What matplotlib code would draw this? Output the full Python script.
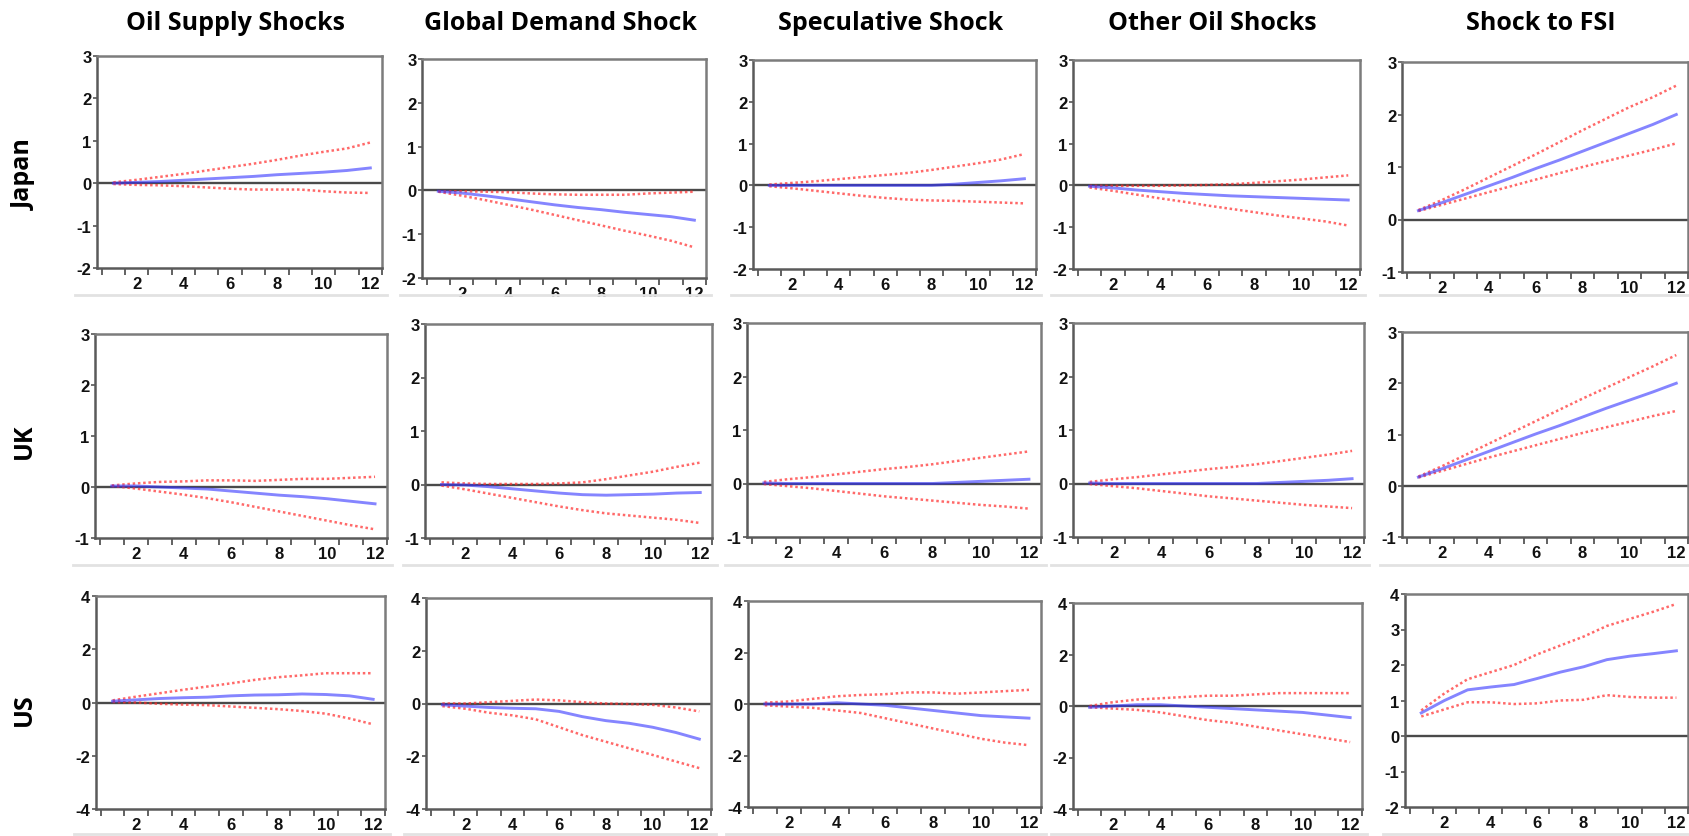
import matplotlib
matplotlib.use("Agg")
import matplotlib.pyplot as plt
from matplotlib.lines import Line2D
from matplotlib.patches import Rectangle
from matplotlib.ticker import FixedLocator, FuncFormatter
import numpy as np

# ---------------------------------------------------------------------------
# Impulse responses (12 horizons) with upper / lower confidence bands
# ---------------------------------------------------------------------------
horizon = list(range(1, 13))

col_titles = ["Oil Supply Shocks", "Global Demand Shock", "Speculative Shock",
              "Other Oil Shocks", "Shock to FSI"]
row_titles = ["Japan", "UK", "US"]

# Japan
jp_supply = [0.00, 0.02, 0.04, 0.07, 0.10, 0.13, 0.16, 0.20, 0.23, 0.26, 0.30, 0.36]
jp_supply_hi = [0.02, 0.08, 0.15, 0.22, 0.30, 0.38, 0.46, 0.55, 0.65, 0.74, 0.82, 0.96]
jp_supply_lo = [-0.02, -0.04, -0.05, -0.07, -0.10, -0.13, -0.15, -0.15, -0.15, -0.19, -0.22, -0.23]

jp_demand = [-0.02, -0.06, -0.12, -0.19, -0.26, -0.33, -0.39, -0.44, -0.50, -0.55, -0.60, -0.68]
jp_demand_hi = [-0.02, -0.02, -0.03, -0.04, -0.07, -0.09, -0.10, -0.10, -0.10, -0.07, -0.05, -0.03]
jp_demand_lo = [-0.03, -0.12, -0.22, -0.33, -0.44, -0.56, -0.68, -0.80, -0.92, -1.03, -1.15, -1.30]

jp_spec = [0.00, 0.00, 0.00, 0.00, 0.00, 0.00, 0.00, 0.00, 0.03, 0.07, 0.11, 0.16]
jp_spec_hi = [0.02, 0.06, 0.10, 0.15, 0.20, 0.25, 0.30, 0.37, 0.45, 0.53, 0.62, 0.75]
jp_spec_lo = [-0.02, -0.07, -0.13, -0.19, -0.25, -0.30, -0.34, -0.36, -0.37, -0.39, -0.41, -0.43]

jp_other = [-0.02, -0.06, -0.11, -0.15, -0.19, -0.22, -0.25, -0.27, -0.29, -0.31, -0.33, -0.35]
jp_other_hi = [-0.01, -0.01, -0.01, -0.01, 0.00, 0.01, 0.03, 0.06, 0.10, 0.14, 0.19, 0.24]
jp_other_lo = [-0.05, -0.13, -0.22, -0.31, -0.39, -0.48, -0.56, -0.64, -0.72, -0.79, -0.86, -0.96]

jp_fsi = [0.17, 0.32, 0.48, 0.64, 0.80, 0.97, 1.13, 1.30, 1.47, 1.64, 1.81, 2.00]
jp_fsi_hi = [0.18, 0.37, 0.58, 0.80, 1.02, 1.24, 1.47, 1.70, 1.92, 2.14, 2.33, 2.55]
jp_fsi_lo = [0.16, 0.28, 0.40, 0.52, 0.64, 0.76, 0.88, 1.00, 1.11, 1.22, 1.33, 1.45]

# UK
uk_supply = [0.02, 0.02, 0.00, -0.02, -0.04, -0.08, -0.12, -0.16, -0.19, -0.23, -0.28, -0.33]
uk_supply_hi = [0.03, 0.07, 0.10, 0.11, 0.13, 0.13, 0.12, 0.14, 0.16, 0.16, 0.18, 0.20]
uk_supply_lo = [0.02, -0.03, -0.09, -0.15, -0.22, -0.30, -0.39, -0.48, -0.57, -0.66, -0.75, -0.83]

uk_demand = [0.00, -0.01, -0.04, -0.08, -0.12, -0.16, -0.19, -0.20, -0.19, -0.18, -0.16, -0.15]
uk_demand_hi = [0.04, 0.02, 0.01, 0.01, 0.01, 0.02, 0.04, 0.10, 0.17, 0.24, 0.33, 0.41]
uk_demand_lo = [-0.02, -0.09, -0.17, -0.25, -0.33, -0.41, -0.48, -0.54, -0.58, -0.62, -0.66, -0.72]

uk_spec = [0.01, 0.00, 0.00, 0.00, 0.00, 0.00, 0.00, 0.00, 0.02, 0.04, 0.06, 0.08]
uk_spec_hi = [0.03, 0.08, 0.12, 0.17, 0.22, 0.27, 0.31, 0.36, 0.42, 0.48, 0.54, 0.60]
uk_spec_lo = [-0.01, -0.05, -0.09, -0.14, -0.19, -0.24, -0.28, -0.32, -0.36, -0.40, -0.43, -0.47]

uk_other = [0.01, 0.00, 0.00, 0.00, 0.00, 0.00, 0.00, 0.00, 0.02, 0.04, 0.06, 0.09]
uk_other_hi = [0.03, 0.08, 0.12, 0.17, 0.22, 0.27, 0.31, 0.36, 0.42, 0.48, 0.54, 0.61]
uk_other_lo = [-0.01, -0.05, -0.09, -0.14, -0.19, -0.24, -0.28, -0.32, -0.36, -0.40, -0.43, -0.46]

uk_fsi = [0.17, 0.33, 0.50, 0.67, 0.84, 1.01, 1.17, 1.34, 1.51, 1.67, 1.83, 2.00]
uk_fsi_hi = [0.18, 0.38, 0.60, 0.82, 1.04, 1.26, 1.48, 1.70, 1.91, 2.12, 2.33, 2.55]
uk_fsi_lo = [0.16, 0.29, 0.42, 0.55, 0.67, 0.79, 0.91, 1.03, 1.14, 1.25, 1.36, 1.46]

# US
us_supply = [0.05, 0.10, 0.15, 0.18, 0.20, 0.25, 0.28, 0.29, 0.32, 0.30, 0.25, 0.12]
us_supply_hi = [0.08, 0.22, 0.35, 0.48, 0.60, 0.72, 0.85, 0.95, 1.02, 1.10, 1.10, 1.10]
us_supply_lo = [0.02, 0.00, -0.05, -0.08, -0.10, -0.15, -0.20, -0.25, -0.32, -0.42, -0.60, -0.82]

us_demand = [-0.05, -0.10, -0.15, -0.18, -0.20, -0.30, -0.50, -0.65, -0.75, -0.90, -1.10, -1.35]
us_demand_hi = [0.00, 0.00, 0.05, 0.10, 0.15, 0.12, 0.05, 0.00, -0.02, -0.05, -0.15, -0.30]
us_demand_lo = [-0.10, -0.20, -0.35, -0.45, -0.60, -0.90, -1.20, -1.45, -1.70, -1.95, -2.20, -2.45]

us_spec = [0.00, 0.00, 0.00, 0.05, 0.00, -0.05, -0.15, -0.25, -0.35, -0.45, -0.50, -0.55]
us_spec_hi = [0.05, 0.10, 0.20, 0.30, 0.35, 0.38, 0.45, 0.45, 0.40, 0.45, 0.50, 0.55]
us_spec_lo = [-0.05, -0.10, -0.15, -0.25, -0.35, -0.55, -0.75, -0.95, -1.15, -1.35, -1.50, -1.60]

us_other = [-0.05, 0.00, 0.05, 0.05, 0.00, -0.05, -0.10, -0.15, -0.20, -0.25, -0.35, -0.45]
us_other_hi = [0.00, 0.15, 0.25, 0.30, 0.35, 0.40, 0.40, 0.45, 0.50, 0.50, 0.50, 0.50]
us_other_lo = [-0.05, -0.10, -0.15, -0.25, -0.40, -0.55, -0.65, -0.80, -0.95, -1.10, -1.25, -1.40]

us_fsi = [0.65, 1.00, 1.30, 1.38, 1.45, 1.62, 1.80, 1.95, 2.15, 2.25, 2.32, 2.40]
us_fsi_hi = [0.72, 1.20, 1.60, 1.80, 2.00, 2.30, 2.55, 2.80, 3.10, 3.30, 3.50, 3.72]
us_fsi_lo = [0.55, 0.75, 0.95, 0.95, 0.90, 0.92, 1.00, 1.02, 1.15, 1.10, 1.08, 1.08]

# y-axis ticks for each row (the FSI column has its own)
jp_yticks = [-2, -1, 0, 1, 2, 3]
jp_fsi_yticks = [-1, 0, 1, 2, 3]
uk_yticks = [-1, 0, 1, 2, 3]
us_yticks = [-4, -2, 0, 2, 4]
us_fsi_yticks = [-2, -1, 0, 1, 2, 3, 4]
xtick_labels = [2, 4, 6, 8, 10, 12]

panels = [
    [(jp_supply, jp_supply_hi, jp_supply_lo, jp_yticks),
     (jp_demand, jp_demand_hi, jp_demand_lo, jp_yticks),
     (jp_spec, jp_spec_hi, jp_spec_lo, jp_yticks),
     (jp_other, jp_other_hi, jp_other_lo, jp_yticks),
     (jp_fsi, jp_fsi_hi, jp_fsi_lo, jp_fsi_yticks)],
    [(uk_supply, uk_supply_hi, uk_supply_lo, uk_yticks),
     (uk_demand, uk_demand_hi, uk_demand_lo, uk_yticks),
     (uk_spec, uk_spec_hi, uk_spec_lo, uk_yticks),
     (uk_other, uk_other_hi, uk_other_lo, uk_yticks),
     (uk_fsi, uk_fsi_hi, uk_fsi_lo, uk_yticks)],
    [(us_supply, us_supply_hi, us_supply_lo, us_yticks),
     (us_demand, us_demand_hi, us_demand_lo, us_yticks),
     (us_spec, us_spec_hi, us_spec_lo, us_yticks),
     (us_other, us_other_hi, us_other_lo, us_yticks),
     (us_fsi, us_fsi_hi, us_fsi_lo, us_fsi_yticks)],
]

# Panel boxes in pixels: (left, top, right, bottom)
W, H = 1690, 837
boxes = [
    [(97, 57, 382, 269), (422, 60, 706, 279), (753, 61, 1036, 270),
     (1073, 61, 1360, 270), (1402, 63, 1688, 273)],
    [(95, 335, 387, 539), (425, 325, 712, 539), (747, 324, 1041, 538),
     (1073, 324, 1364, 538), (1402, 333, 1688, 538)],
    [(96, 597, 385, 810), (426, 599, 711, 810), (748, 602, 1041, 808),
     (1073, 604, 1362, 810), (1405, 595, 1688, 808)],
]

# bold, narrow numerals for all tick labels
plt.rcParams["font.family"] = ["Liberation Sans Narrow", "Liberation Sans", "DejaVu Sans"]
plt.rcParams["font.weight"] = "bold"
plt.rcParams["font.size"] = 12

head_font = dict(family=["Open Sans", "DejaVu Sans"], weight="bold", size=18)

fig = plt.figure(figsize=(W / 100, H / 100), dpi=100)
fig.patch.set_facecolor("white")


def px_to_fig(l, t, r, b):
    return [l / W, 1 - b / H, (r - l) / W, (b - t) / H]


for i, row in enumerate(panels):
    for j, (irf, hi, lo, yt) in enumerate(row):
        l, t, r, b = boxes[i][j]
        ax = fig.add_axes(px_to_fig(l, t, r, b))
        ax.axhline(0, color="#4a4a4a", lw=1.7, zorder=1)
        ax.plot(horizon, hi, color="#ff2a2a", alpha=0.7, lw=1.8,
                linestyle=(0, (1, 1.1)), zorder=2)
        ax.plot(horizon, lo, color="#ff2a2a", alpha=0.7, lw=1.8,
                linestyle=(0, (1, 1.1)), zorder=2)
        ax.plot(horizon, irf, color="#3434ff", alpha=0.6, lw=2.1, zorder=3)

        ax.set_xlim(0.3, 12.5)
        ax.set_ylim(min(yt), max(yt))
        ax.xaxis.set_major_locator(FixedLocator(xtick_labels))
        ax.xaxis.set_minor_locator(FixedLocator(np.arange(0.5, 13, 1.0)))
        ax.yaxis.set_major_locator(FixedLocator(yt))
        ax.yaxis.set_major_formatter(FuncFormatter(lambda v, p: "%d" % v))
        ax.tick_params(axis="x", which="major", length=0, pad=6, labelcolor="#111111")
        ax.tick_params(axis="x", which="minor", length=5, width=1.3,
                       direction="out", color="#555555")
        ax.tick_params(axis="y", which="major", length=3, width=1.2,
                       direction="out", color="#555555", pad=1, labelcolor="#111111")
        for name, sp in ax.spines.items():
            sp.set_color("#7c7c7c")
            sp.set_linewidth(1.8)
        ax.spines["left"].set_color("#5a5a5a")
        ax.spines["bottom"].set_color("#5a5a5a")

        # light frame edge beneath each panel's tick labels
        sep_y = [296, 566, 835][i]
        fig.add_artist(Line2D([(l - 22) / W, (r + 5) / W],
                              [1 - sep_y / H, 1 - sep_y / H],
                              color="#e2e2e2", lw=2))

# the demand panel in the first row is cut just below its tick labels
fig.add_artist(Rectangle((405 / W, 1 - 306 / H), 320 / W, 8 / H,
                         transform=fig.transFigure, facecolor="white",
                         edgecolor="none", zorder=10))

# Column headers
for j, title in enumerate(col_titles):
    l, t, r, b = boxes[0][j]
    fig.text(((l + r) / 2 - 4) / W, 1 - 24 / H, title, ha="center", va="center",
             **head_font)

# Row headers
row_y = [175, 441, 710]
for i, name in enumerate(row_titles):
    fig.text(24 / W, 1 - row_y[i] / H, name, rotation=90, ha="center",
             va="center", **head_font)

fig.savefig("out.png", dpi=100, facecolor="white")
